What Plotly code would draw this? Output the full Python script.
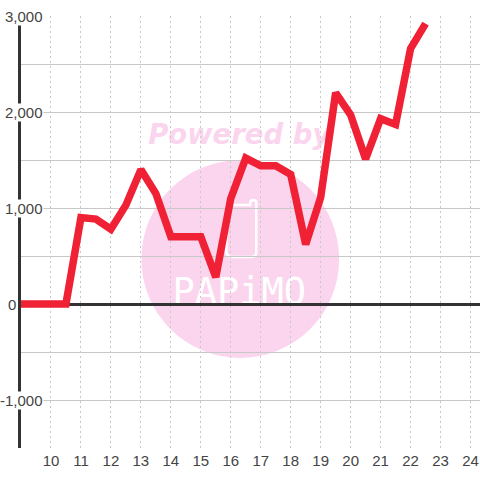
import plotly.graph_objects as go

hours = [8.9, 9, 9.5, 10, 10.5, 11, 11.5, 12, 12.5, 13, 13.5, 14, 14.5, 15, 15.5, 16, 16.5,
         17, 17.5, 18, 18.5, 19, 19.5, 20, 20.5, 21, 21.5, 22, 22.5]
values = [0, 0, 0, 0, 0, 900, 885, 780, 1030, 1400, 1150, 700, 700, 700, 280, 1100, 1520,
          1440, 1440, 1350, 620, 1110, 2200, 1970, 1510, 1930, 1870, 2660, 2920]
x_ticks = list(range(10, 25))
y_major = [3000, 2000, 1000, 0, -1000]
y_grid = [3000, 2500, 2000, 1500, 1000, 500, 0, -500, -1000, -1500]

L, T, B = 20.5, 16, 32
PW, PH = 480 - L, 480 - T - B
PINK = "#fbd5ee"
TXT = "#444444"
GRID = "#c8c8c8"


def px(v):
    return (v - L) / PW


def py(v):
    return 1 - (v - T) / PH


def P(x, y):
    return f"{px(x):.5f},{py(y):.5f}"


phone = ("M " + P(250, 205) + " L " + P(250, 203) + " Q " + P(250, 200) + " " + P(253, 200)
         + " Q " + P(256, 200) + " " + P(256, 203) + " L " + P(256, 252)
         + " Q " + P(256, 257) + " " + P(251, 257) + " L " + P(232, 257)
         + " Q " + P(226, 257) + " " + P(226, 251) + " L " + P(226, 210)
         + " Q " + P(226, 205) + " " + P(231, 205) + " Z")

fig = go.Figure()
fig.add_trace(go.Scatter(x=hours, y=values, mode="lines", cliponaxis=False,
                         line=dict(color="#f02035", width=7.5), hoverinfo="skip", showlegend=False))

shapes = [
    dict(type="circle", xref="paper", yref="paper", x0=px(141), x1=px(339), y0=py(358), y1=py(160),
         fillcolor=PINK, line_width=0, layer="below"),
    dict(type="path", xref="paper", yref="paper", path=phone,
         line=dict(color="white", width=2.5), fillcolor="rgba(0,0,0,0)", layer="below"),
    dict(type="rect", xref="paper", yref="paper", x0=px(130), x1=px(348), y0=py(148), y1=py(116),
         line_width=0, layer="below", fillcolor="rgba(0,0,0,0)",
         label=dict(text="<b><i>Powered by</i></b>", textposition="middle center",
                    font=dict(family="DejaVu Sans", size=27.5, color=PINK))),
    dict(type="rect", xref="paper", yref="paper", x0=px(150), x1=px(328), y0=py(309), y1=py(267),
         line_width=0, layer="below", fillcolor="rgba(0,0,0,0)",
         label=dict(text="PAPiMO", textposition="middle center",
                    font=dict(family="DejaVu Sans Mono", size=37, color="white"))),
]
annotations = []
for v in y_major:
    annotations.append(dict(text=f"{v:,}", xref="paper", yref="y", x=px(16.5 if v == 0 else 44), y=v,
                            xanchor="right", showarrow=False, bgcolor="white", borderpad=0,
                            font=dict(family="Liberation Sans", size=15, color=TXT)))

fig.update_layout(
    width=480, height=480, autosize=False,
    margin=dict(l=L, r=0, t=T, b=B),
    paper_bgcolor="white", plot_bgcolor="rgba(0,0,0,0)",
    shapes=shapes, annotations=annotations, showlegend=False,
    font=dict(family="Liberation Sans", size=15, color=TXT),
)
fig.update_xaxes(range=[9, 9 + PW / 30], tickvals=x_ticks, ticks="", showline=False,
                 showgrid=True, gridcolor=GRID, griddash="2px,3px", gridwidth=1, zeroline=False,
                 tickfont=dict(size=15, color=TXT), ticklen=0, ticklabelstandoff=2)
fig.update_yaxes(range=[-1500, 3000], tickvals=y_grid, showticklabels=False, ticks="",
                 showgrid=True, gridcolor=GRID, gridwidth=1,
                 zeroline=True, zerolinecolor="#333333", zerolinewidth=3,
                 showline=True, linecolor="#333333", linewidth=3)
fig.write_html("out.html", config=dict(displayModeBar=False),
               post_script="document.body.style.margin='0';document.body.style.overflow='hidden';"
                           "document.querySelectorAll('.js-line').forEach(function(e){"
                           "e.style.strokeLinejoin='miter';e.style.strokeMiterlimit='2';});")
